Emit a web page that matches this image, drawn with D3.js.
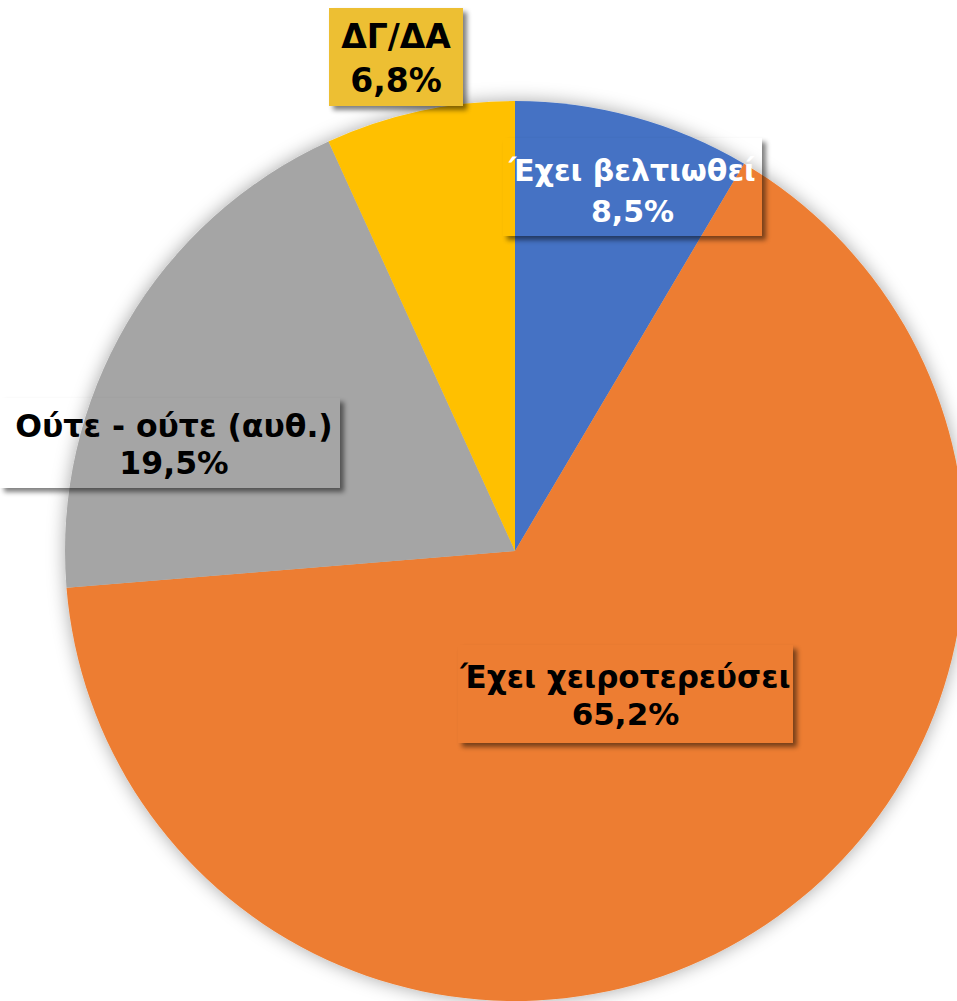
<!DOCTYPE html>
<html><head><meta charset="utf-8">
<script src="https://cdn.jsdelivr.net/npm/d3@7"></script>
<style>html,body{margin:0;padding:0;background:#fff;}svg{display:block;}</style>
</head><body>
<svg id="c" width="957" height="1001"></svg>
<script>
const categories = ["Έχει βελτιωθεί", "Έχει χειροτερεύσει", "Ούτε - ούτε (αυθ.)", "ΔΓ/ΔΑ"];
const values = [8.5, 65.2, 19.5, 6.8];
const valueLabels = ["8,5%", "65,2%", "19,5%", "6,8%"];
const colors = ["#4472C4", "#ED7D31", "#A5A5A5", "#FFC000"];

// label box layout
const boxLayout = [
  {x:503, y:138, w:259, h:98, b1:181, b2:222, tc:"#fff", fill:"none", fs:30},
  {x:458, y:645, w:335, h:98, b1:688, b2:725, tc:"#000", fill:"none", fs:31},
  {x:0,   y:398, w:340, h:90, b1:437, b2:474, tc:"#000", fill:"none", fs:31.5},
  {x:329, y:8,   w:134, h:98, b1:48,  b2:92,  tc:"#000", fill:"#EDBF33", fs:33}
];

const svg = d3.select("#c");
const defs = svg.append("defs");
const pf = defs.append("filter").attr("id","pieShadow").attr("x","-20%").attr("y","-20%").attr("width","140%").attr("height","140%");
pf.append("feDropShadow").attr("dx",0).attr("dy",0).attr("stdDeviation",9).attr("flood-color","#000").attr("flood-opacity",0.35);
const bf = defs.append("filter").attr("id","boxBlur").attr("x","-20%").attr("y","-20%").attr("width","140%").attr("height","140%");
bf.append("feGaussianBlur").attr("stdDeviation",2.5);

const cx = 515, cy = 551, r = 450;
const pie = d3.pie().sort(null).value(d => d)(values);
const arc = d3.arc().innerRadius(0).outerRadius(r);

const g = svg.append("g").attr("transform", `translate(${cx},${cy})`).attr("filter","url(#pieShadow)");
g.selectAll("path").data(pie).join("path")
  .attr("d", arc).attr("fill", (d,i) => colors[i]);

boxLayout.forEach((b,i) => {
  const mid = "m"+i;
  const m = defs.append("mask").attr("id", mid).attr("maskUnits","userSpaceOnUse")
    .attr("x",0).attr("y",0).attr("width",957).attr("height",1001);
  m.append("rect").attr("x",0).attr("y",0).attr("width",957).attr("height",1001).attr("fill","#fff");
  m.append("rect").attr("x",b.x).attr("y",b.y).attr("width",b.w).attr("height",b.h).attr("fill","#000");
  svg.append("g").attr("mask",`url(#${mid})`)
    .append("rect").attr("x",b.x+4).attr("y",b.y+4).attr("width",b.w).attr("height",b.h)
    .attr("fill","#000").attr("opacity",0.5).attr("filter","url(#boxBlur)");
  if (b.fill !== "none") {
    svg.append("rect").attr("x",b.x).attr("y",b.y).attr("width",b.w).attr("height",b.h).attr("fill",b.fill);
  }
  const tx = b.x + b.w/2 + (i===2 ? 4 : 0);
  const t = svg.append("text").attr("text-anchor","middle")
    .attr("font-family","'DejaVu Sans', sans-serif").attr("font-weight","bold")
    .attr("font-size",b.fs).attr("fill",b.tc);
  t.append("tspan").attr("x",tx).attr("y",b.b1).text(categories[i]);
  t.append("tspan").attr("x",tx).attr("y",b.b2).text(valueLabels[i]);
});
</script>
</body></html>
